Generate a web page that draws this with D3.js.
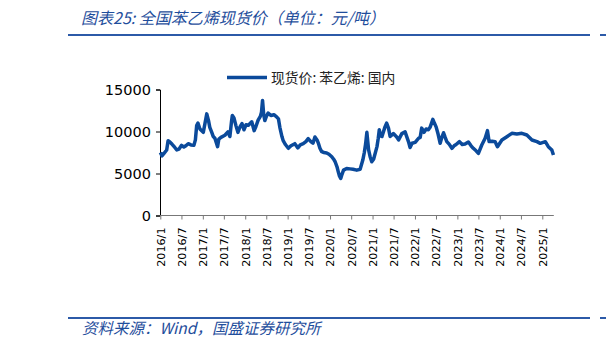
<!DOCTYPE html>
<html>
<head>
<meta charset="utf-8">
<script src="https://cdn.jsdelivr.net/npm/d3@7"></script>
<style>
  html, body { margin: 0; padding: 0; background: #fff; }
  svg { display: block; }
</style>
</head>
<body>
<svg id="chart" width="606" height="349"></svg>
<script>
// 全国苯乙烯现货价（元/吨）
const seriesName = "现货价: 苯乙烯: 国内";
const dates = [
  "2016-01-02","2016-01-15","2016-02-02","2016-02-25","2016-03-08","2016-03-23","2016-04-10","2016-05-05","2016-05-22","2016-06-09",
  "2016-07-02","2016-07-22","2016-08-08","2016-08-28","2016-09-21","2016-10-16","2016-10-29","2016-11-09","2016-11-20","2016-12-07",
  "2017-01-05","2017-01-20","2017-02-04","2017-02-19","2017-03-02","2017-03-19","2017-04-01","2017-04-15","2017-05-08","2017-05-19",
  "2017-06-06","2017-07-10","2017-08-05","2017-08-22","2017-09-05","2017-09-12","2017-09-26","2017-10-13","2017-10-30","2017-11-17",
  "2017-12-04","2017-12-21","2018-01-08","2018-01-28","2018-02-26","2018-03-19","2018-04-03","2018-04-22","2018-05-11","2018-05-21",
  "2018-05-30","2018-06-09","2018-06-19","2018-07-02","2018-07-17","2018-08-10","2018-09-05","2018-09-28","2018-10-14","2018-10-26",
  "2018-11-13","2018-11-24","2018-12-13","2019-01-07","2019-01-30","2019-03-04","2019-03-30","2019-04-20","2019-05-15","2019-06-07",
  "2019-06-27","2019-07-20","2019-08-07","2019-08-24","2019-09-11","2019-09-24","2019-10-06","2019-10-21","2019-11-10","2019-12-03",
  "2019-12-23","2020-01-16","2020-02-01","2020-02-14","2020-03-01","2020-03-12","2020-03-22","2020-04-02","2020-04-13","2020-04-26",
  "2020-05-23","2020-06-21","2020-07-17","2020-08-18","2020-09-16","2020-10-09","2020-10-22","2020-11-02","2020-11-13","2020-11-28",
  "2020-12-11","2020-12-25","2021-01-10","2021-02-08","2021-02-19","2021-02-28","2021-03-10","2021-03-23","2021-04-18","2021-05-02",
  "2021-05-18","2021-06-01","2021-06-29","2021-07-28","2021-08-13","2021-09-10","2021-10-08","2021-11-06","2021-11-20","2021-12-07",
  "2022-01-03","2022-02-01","2022-02-15","2022-02-28","2022-03-20","2022-04-07","2022-04-26","2022-05-11","2022-06-04","2022-06-17",
  "2022-07-02","2022-07-19","2022-08-06","2022-08-18","2022-09-04","2022-09-18","2022-10-02","2022-10-22","2022-11-15","2022-12-04",
  "2022-12-21","2023-01-19","2023-02-12","2023-03-08","2023-04-06","2023-04-29","2023-05-18","2023-06-11","2023-07-01","2023-07-30",
  "2023-08-28","2023-09-17","2023-10-01","2023-10-27","2023-11-22","2023-12-12","2024-01-19","2024-03-02","2024-04-14","2024-05-27",
  "2024-07-09","2024-08-21","2024-10-04","2024-11-16","2024-12-14","2025-01-27","2025-02-22","2025-03-24","2025-04-07"
];
const prices = [
  7500,7100,7400,7800,8900,8750,8500,8100,7800,7900,
  8350,8150,8300,8550,8400,8350,9000,10700,11000,10300,
  9900,11000,12100,11300,10500,9900,9400,9200,8200,9100,
  9300,9550,9950,9400,11200,11900,11600,10700,9900,10550,
  10950,10200,10800,10750,11150,10100,10600,11350,11800,12300,
  13700,12000,11300,11800,12200,11900,12000,11750,11500,10500,
  9400,8900,8450,8000,8300,8550,8050,8400,8550,8800,
  9150,8800,8600,9350,9000,8550,8000,7600,7500,7450,
  7300,7000,6700,6400,5800,5200,4700,4400,4900,5400,
  5600,5550,5500,5400,5500,6600,7500,8500,9900,7800,
  7000,6400,6700,8200,9200,10200,9500,9400,10550,11000,
  10400,9400,9750,9350,9000,9750,9950,8800,8100,8600,
  8700,9200,9300,10400,9900,10300,10200,10500,11450,11000,
  10550,9700,8600,9200,9850,9300,8800,8500,8000,8300,
  8450,8800,8450,8500,8750,8300,8000,7700,7400,8390,
  9190,10100,8800,8850,8790,8190,8990,9380,9780,9700,
  9780,9580,8990,8790,8590,8790,8190,7800,7200
];
const yTicks = [0, 5000, 10000, 15000];
const xTickLabels = ["2016/1","2016/7","2017/1","2017/7","2018/1","2018/7","2019/1","2019/7","2020/1",
                     "2020/7","2021/1","2021/7","2022/1","2022/7","2023/1","2023/7","2024/1","2024/7","2025/1"];

const parse = d3.timeParse("%Y-%m-%d");
const tickParse = d3.timeParse("%Y/%m");
const data = dates.map((d, i) => ({ date: parse(d), value: prices[i] }));

const svg = d3.select("#chart");
const blue = "#1f4e9c";
const lineBlue = "#0b4a9b";

// Header and footer rules
svg.append("line").attr("x1", 68).attr("x2", 590).attr("y1", 35).attr("y2", 35)
  .attr("stroke", "#2c5aa8").attr("stroke-width", 2);
svg.append("line").attr("x1", 600).attr("x2", 606).attr("y1", 35).attr("y2", 35)
  .attr("stroke", "#2c5aa8").attr("stroke-width", 2);
svg.append("line").attr("x1", 68).attr("x2", 590).attr("y1", 318).attr("y2", 318)
  .attr("stroke", "#2c5aa8").attr("stroke-width", 2);
svg.append("line").attr("x1", 600).attr("x2", 606).attr("y1", 318).attr("y2", 318)
  .attr("stroke", "#2c5aa8").attr("stroke-width", 2);

svg.append("text").attr("x", 81).attr("y", 24)
  .attr("font-family", "'Noto Sans CJK SC', sans-serif").attr("font-size", 16)
  .attr("font-style", "italic").attr("fill", blue)
  .text("图表25: 全国苯乙烯现货价（单位：元/吨）");

svg.append("text").attr("x", 82).attr("y", 334)
  .attr("font-family", "'Noto Sans CJK SC', sans-serif").attr("font-size", 15.5)
  .attr("font-style", "italic").attr("fill", blue)
  .text("资料来源：Wind，国盛证券研究所");

// Scales
const x = d3.scaleTime()
  .domain([new Date(2016, 0, 1), new Date(2025, 0, 1)])
  .range([160.3, 542.3]);
const y = d3.scaleLinear().domain([0, 15000]).range([215.5, 89.5]);

// Y axis
const yAxis = svg.append("g").attr("transform", "translate(160,0)")
  .call(d3.axisLeft(y).tickValues(yTicks).tickSize(4).tickPadding(5).tickFormat(d3.format("d")));
yAxis.select(".domain").attr("stroke", "#000");
yAxis.selectAll(".tick line").attr("stroke", "#000");
yAxis.selectAll("text").attr("font-family", "'DejaVu Sans', sans-serif")
  .attr("font-size", 14.5).attr("fill", "#000");

// X axis
const xEnd = x(new Date(2025, 3, 10));
const xAxis = svg.append("g").attr("transform", "translate(0,215.5)")
  .call(d3.axisBottom(x).tickValues(xTickLabels.map(t => tickParse(t)))
    .tickSize(4).tickSizeOuter(0).tickFormat(d3.timeFormat("%Y/%-m")));
xAxis.select(".domain").attr("d", `M160,0H${xEnd}`).attr("stroke", "#777");
xAxis.selectAll(".tick line").attr("stroke", "#777");
xAxis.selectAll("text")
  .attr("font-family", "'DejaVu Sans', sans-serif").attr("font-size", 11.2).attr("fill", "#000")
  .attr("text-anchor", "end").attr("transform", "rotate(-90)")
  .attr("x", -12).attr("y", 0).attr("dy", "0.35em");

// Price line
const line = d3.line().x(d => x(d.date)).y(d => y(d.value));
svg.append("path").datum(data).attr("d", line)
  .attr("fill", "none").attr("stroke", lineBlue).attr("stroke-width", 3.5)
  .attr("stroke-linejoin", "round");

// Legend
svg.append("line").attr("x1", 227).attr("x2", 267).attr("y1", 77.5).attr("y2", 77.5)
  .attr("stroke", lineBlue).attr("stroke-width", 3.5);
svg.append("text").attr("x", 271).attr("y", 82.5)
  .attr("font-family", "'Noto Sans CJK SC', sans-serif").attr("font-size", 13.8).attr("fill", "#222")
  .text(seriesName);
</script>
</body>
</html>
